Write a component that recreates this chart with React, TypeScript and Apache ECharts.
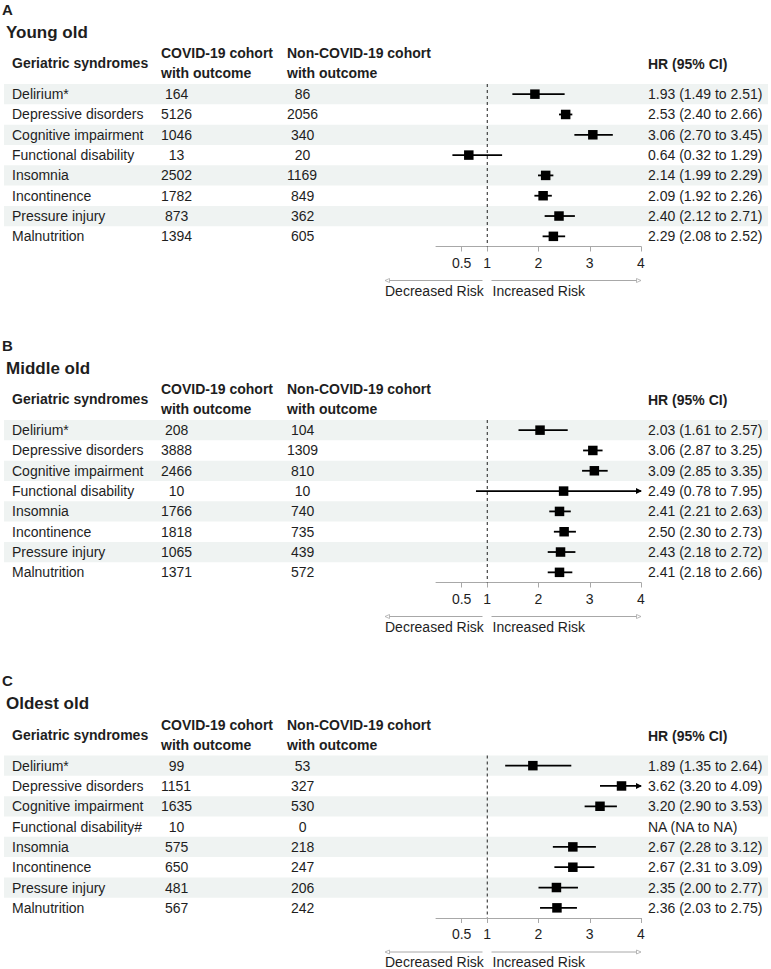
import React, { useEffect, useRef } from 'react';
import * as echarts from 'echarts';

const syndromes = ['Delirium*', 'Depressive disorders', 'Cognitive impairment', 'Functional disability', 'Insomnia', 'Incontinence', 'Pressure injury', 'Malnutrition'];
const syndromesOldest = ['Delirium*', 'Depressive disorders', 'Cognitive impairment', 'Functional disability#', 'Insomnia', 'Incontinence', 'Pressure injury', 'Malnutrition'];

const youngCovid = [164, 5126, 1046, 13, 2502, 1782, 873, 1394];
const youngNonCovid = [86, 2056, 340, 20, 1169, 849, 362, 605];
const youngHR = [1.93, 2.53, 3.06, 0.64, 2.14, 2.09, 2.40, 2.29];
const youngLower = [1.49, 2.40, 2.70, 0.32, 1.99, 1.92, 2.12, 2.08];
const youngUpper = [2.51, 2.66, 3.45, 1.29, 2.29, 2.26, 2.71, 2.52];

const middleCovid = [208, 3888, 2466, 10, 1766, 1818, 1065, 1371];
const middleNonCovid = [104, 1309, 810, 10, 740, 735, 439, 572];
const middleHR = [2.03, 3.06, 3.09, 2.49, 2.41, 2.50, 2.43, 2.41];
const middleLower = [1.61, 2.87, 2.85, 0.78, 2.21, 2.30, 2.18, 2.18];
const middleUpper = [2.57, 3.25, 3.35, 7.95, 2.63, 2.73, 2.72, 2.66];

const oldestCovid = [99, 1151, 1635, 10, 575, 650, 481, 567];
const oldestNonCovid = [53, 327, 530, 0, 218, 247, 206, 242];
const oldestHR: (number | null)[] = [1.89, 3.62, 3.20, null, 2.67, 2.67, 2.35, 2.36];
const oldestLower: (number | null)[] = [1.35, 3.20, 2.90, null, 2.28, 2.31, 2.00, 2.03];
const oldestUpper: (number | null)[] = [2.64, 4.09, 3.53, null, 3.12, 3.09, 2.77, 2.75];

const xTicks = [0.5, 1, 2, 3, 4];
const xMin = 0;
const xMax = 4;

const panelLetters = ['A', 'B', 'C'];
const panelTitles = ['Young old', 'Middle old', 'Oldest old'];

const FONT = '"Liberation Sans", Arial, Helvetica, sans-serif';
const TXT = '#1e1e1e';
const BAND = '#eff3f2';
const GREY = '#a8a8a8';

type Panel = {
  names: string[];
  covid: number[];
  non: number[];
  hr: (number | null)[];
  lo: (number | null)[];
  hi: (number | null)[];
};

const panels: Panel[] = [
  { names: syndromes, covid: youngCovid, non: youngNonCovid, hr: youngHR, lo: youngLower, hi: youngUpper },
  { names: syndromes, covid: middleCovid, non: middleNonCovid, hr: middleHR, lo: middleLower, hi: middleUpper },
  { names: syndromesOldest, covid: oldestCovid, non: oldestNonCovid, hr: oldestHR, lo: oldestLower, hi: oldestUpper },
];

const OFFSETS = [0, 336, 671.5];
const GRID_TOP = 84;
const GRID_H = 162.5;
const GRID_LEFT = 436;
const GRID_W = 205;

const COL_NAME = 12;
const COL_COVID = 161;
const COL_NON = 287;
const COL_HR = 648;
const SPACE_W = 3.9;

function txt(text: string, x: number, y: number, size: number, bold = false, align = 'left', fill = TXT) {
  return {
    type: 'text',
    x,
    y,
    silent: true,
    style: {
      text,
      fontSize: size,
      fontFamily: FONT,
      fontWeight: bold ? 'bold' : 'normal',
      fill,
      textAlign: align,
      align,
      textVerticalAlign: 'middle',
      verticalAlign: 'middle',
    },
  };
}

function fmt(v: number | null) {
  return v === null ? 'NA' : v.toFixed(2);
}

export default function App() {
  const ref = useRef<HTMLDivElement>(null);

  useEffect(() => {
    if (!ref.current) return;
    const chart = echarts.init(ref.current, null, { renderer: 'svg' });

    const grids: any[] = [];
    const xAxes: any[] = [];
    const yAxes: any[] = [];
    const series: any[] = [];
    const graphics: any[] = [];

    panels.forEach((p, k) => {
      const off = OFFSETS[k];
      grids.push({ left: GRID_LEFT, width: GRID_W, top: GRID_TOP + off, height: GRID_H, containLabel: false });
      xAxes.push({
        type: 'value',
        gridIndex: k,
        min: xMin,
        max: xMax,
        position: 'bottom',
        axisLine: { show: true, onZero: false, lineStyle: { color: GREY, width: 1 } },
        axisTick: { show: true, customValues: xTicks, length: 5, lineStyle: { color: GREY, width: 1 } },
        axisLabel: { show: true, customValues: xTicks, fontSize: 14, fontFamily: FONT, color: TXT, margin: 9 },
        splitLine: { show: false },
      });
      yAxes.push({
        type: 'category',
        gridIndex: k,
        inverse: true,
        data: p.names,
        show: false,
      });

      // alternating row bands
      series.push({
        type: 'custom',
        xAxisIndex: k,
        yAxisIndex: k,
        z: 1,
        silent: true,
        data: p.names.map((_, i) => [xMin, i]),
        renderItem: (params: any, api: any) => {
          const i = params.dataIndex;
          if (i % 2 === 1) return { type: 'group', children: [] };
          const yc = api.coord([xMin, i])[1];
          const h = api.size([0, 1])[1];
          return {
            type: 'rect',
            shape: { x: 4, y: yc - h / 2, width: 764, height: h },
            style: { fill: BAND },
          };
        },
      });

      // table text + CI marks
      series.push({
        type: 'custom',
        xAxisIndex: k,
        yAxisIndex: k,
        z: 3,
        silent: true,
        data: p.names.map((_, i) => [p.hr[i] === null ? 1 : p.hr[i], i]),
        renderItem: (params: any, api: any) => {
          const i = params.dataIndex;
          const yc = api.coord([xMin, i])[1];
          const children: any[] = [];
          const cov = String(p.covid[i]);
          const non = String(p.non[i]);
          children.push(txt(p.names[i], COL_NAME, yc, 14));
          children.push(txt(cov, COL_COVID + (4 - cov.length) * SPACE_W, yc, 14));
          children.push(txt(non, COL_NON + (4 - non.length) * SPACE_W, yc, 14));
          children.push(txt(`${fmt(p.hr[i])} (${fmt(p.lo[i])} to ${fmt(p.hi[i])})`, COL_HR, yc, 14));

          if (i === 0) {
            const cs = params.coordSys;
            const x1 = api.coord([1, 0])[0];
            children.push({
              type: 'line',
              shape: { x1, y1: cs.y, x2: x1, y2: cs.y + cs.height },
              style: { stroke: TXT, lineWidth: 1, lineDash: [3, 3] },
            });
          }

          const hr = p.hr[i];
          const lo = p.lo[i];
          const hi = p.hi[i];
          if (hr !== null && lo !== null && hi !== null) {
            const loC = Math.max(lo, xMin);
            const hiC = Math.min(hi, xMax);
            const xl = api.coord([loC, i])[0];
            const xh = api.coord([hiC, i])[0];
            const xs = api.coord([hr, i])[0];
            children.push({
              type: 'line',
              shape: { x1: xl, y1: yc, x2: xh, y2: yc },
              style: { stroke: '#000', lineWidth: 1.8 },
            });
            if (hi > xMax) {
              children.push({
                type: 'polygon',
                shape: { points: [[xh + 1, yc], [xh - 5, yc - 3], [xh - 5, yc + 3]] },
                style: { fill: '#000' },
              });
            }
            if (lo < xMin) {
              children.push({
                type: 'polygon',
                shape: { points: [[xl - 1, yc], [xl + 5, yc - 3], [xl + 5, yc + 3]] },
                style: { fill: '#000' },
              });
            }
            children.push({
              type: 'rect',
              shape: { x: xs - 4.75, y: yc - 4.75, width: 9.5, height: 9.5 },
              style: { fill: '#000' },
            });
          }
          return { type: 'group', children };
        },
      });

      // panel letter, title, headers
      graphics.push(txt(panelLetters[k], 2, 9 + off, 15, true));
      graphics.push(txt(panelTitles[k], 6, 32 + off, 17, true));
      graphics.push(txt('Geriatric syndromes', COL_NAME, 63 + off, 14, true));
      graphics.push(txt('COVID-19 cohort', COL_COVID, 53 + off, 14, true));
      graphics.push(txt('with outcome', COL_COVID, 73 + off, 14, true));
      graphics.push(txt('Non-COVID-19 cohort', COL_NON, 53 + off, 14, true));
      graphics.push(txt('with outcome', COL_NON, 73 + off, 14, true));
      graphics.push(txt('HR (95% CI)', COL_HR, 64 + off, 14, true));

      // risk direction arrows
      const ay = 280.5 + off;
      graphics.push({
        type: 'line',
        silent: true,
        shape: { x1: 386, y1: ay, x2: 482.5, y2: ay },
        style: { stroke: GREY, lineWidth: 1 },
      });
      graphics.push({
        type: 'polygon',
        silent: true,
        shape: { points: [[385, ay], [389.5, ay - 2], [389.5, ay + 2]] },
        style: { fill: '#fff', stroke: GREY, lineWidth: 0.8 },
      });
      graphics.push({
        type: 'line',
        silent: true,
        shape: { x1: 491.5, y1: ay, x2: 639.5, y2: ay },
        style: { stroke: GREY, lineWidth: 1 },
      });
      graphics.push({
        type: 'polygon',
        silent: true,
        shape: { points: [[641, ay], [636.5, ay - 2], [636.5, ay + 2]] },
        style: { fill: '#fff', stroke: GREY, lineWidth: 0.8 },
      });
      graphics.push(txt('Decreased Risk', 385, 290.5 + off, 14));
      graphics.push(txt('Increased Risk', 492.5, 290.5 + off, 14));
    });

    chart.setOption({
      animation: false,
      backgroundColor: '#ffffff',
      grid: grids,
      xAxis: xAxes,
      yAxis: yAxes,
      series,
      graphic: { elements: graphics },
    });

    return () => {
      chart.dispose();
    };
  }, []);

  return (
    <div
      ref={ref}
      style={{ position: 'absolute', left: 0, top: 0, width: 771, height: 969, background: '#fff' }}
    />
  );
}
